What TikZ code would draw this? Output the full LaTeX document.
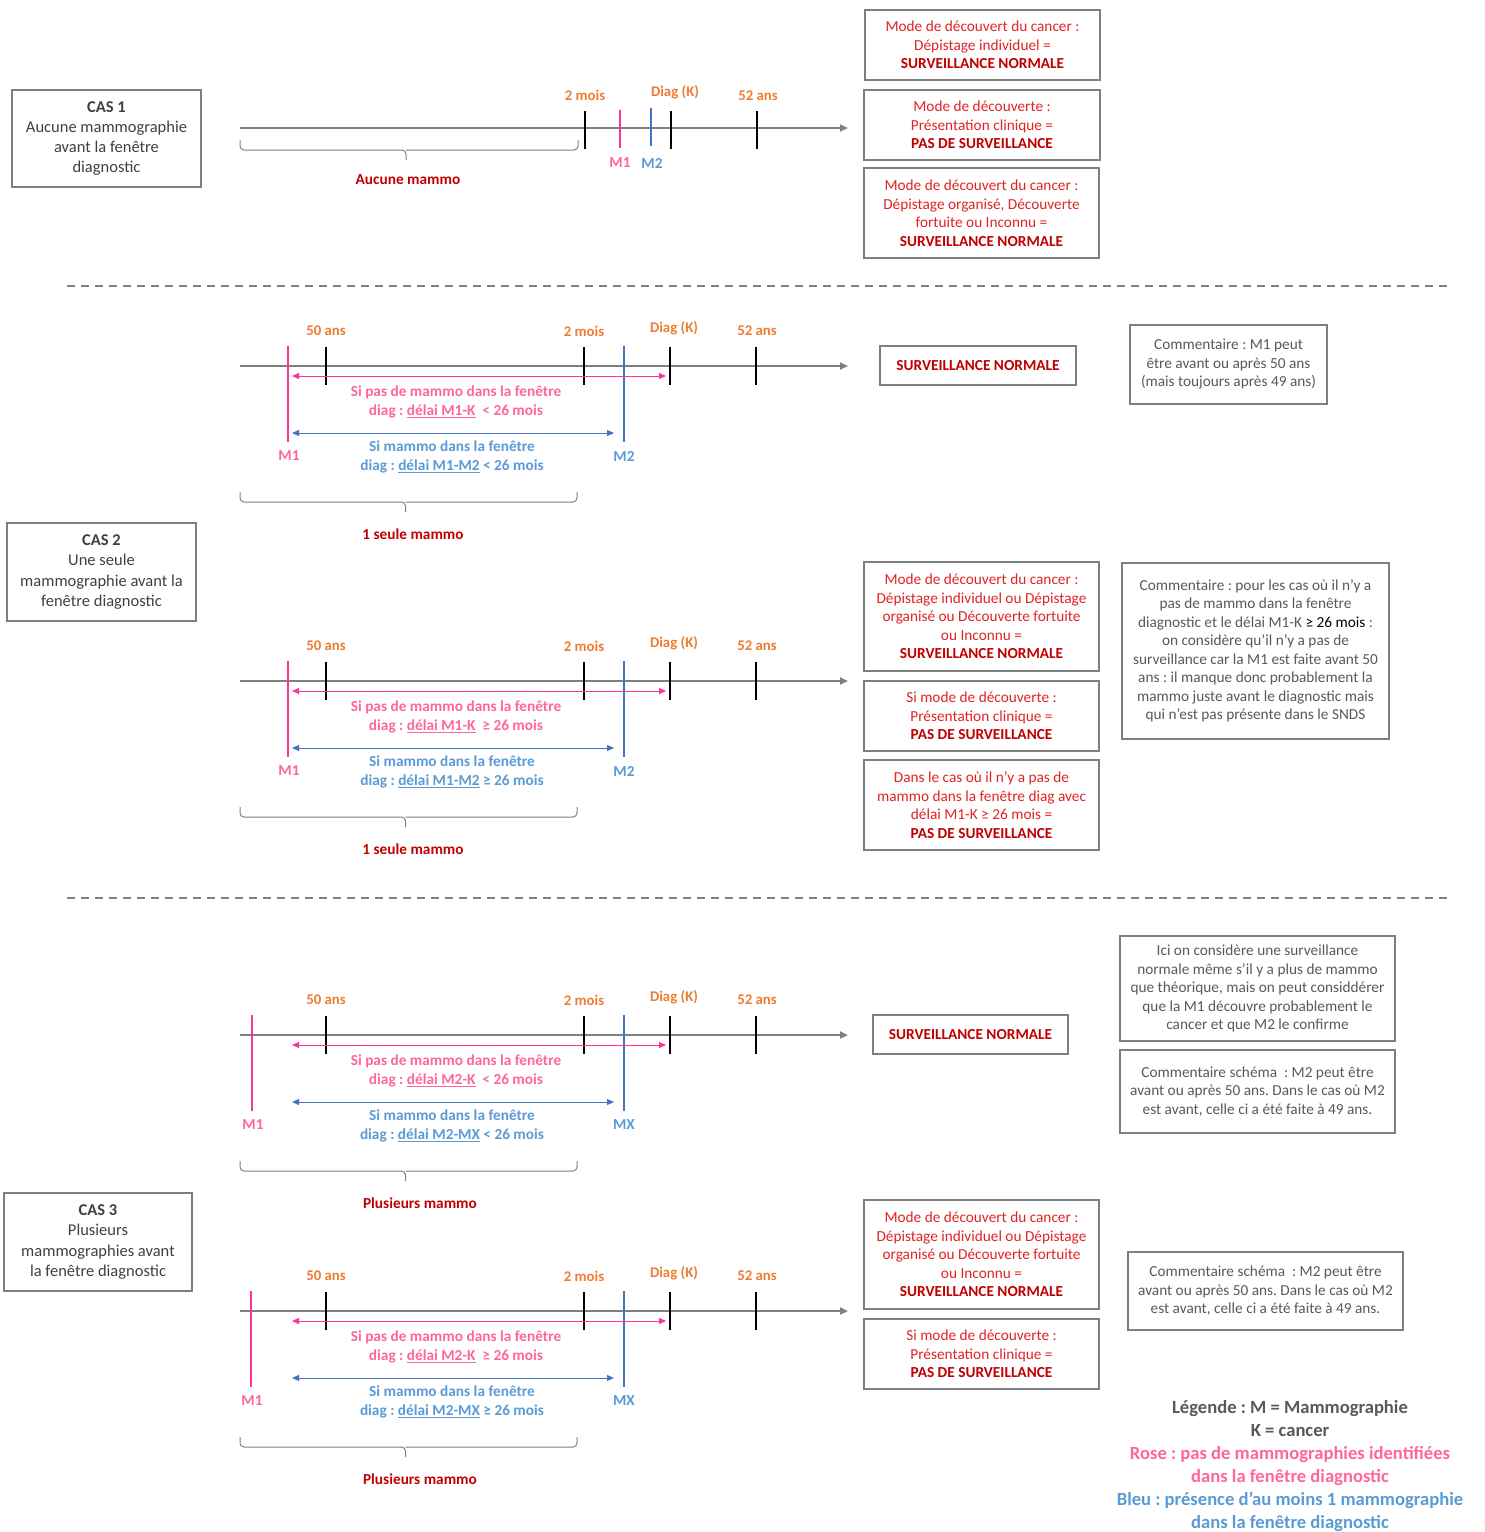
\documentclass[tikz,border=0pt]{standalone}
\usepackage{fontspec}
\setmainfont{Carlito}
\frenchspacing
\usetikzlibrary{arrows.meta}
\definecolor{axgray}{RGB}{128,128,128}
\definecolor{bxgray}{RGB}{127,127,127}
\definecolor{txgray}{RGB}{89,89,89}
\definecolor{cagray}{RGB}{64,64,64}
\definecolor{orng}{RGB}{237,125,49}
\definecolor{drkred}{RGB}{192,0,0}
\definecolor{boxred}{RGB}{224,36,36}
\definecolor{pinkln}{RGB}{255,51,153}
\definecolor{pinktx}{RGB}{255,102,153}
\definecolor{bluetx}{RGB}{91,155,213}
\definecolor{blueln}{RGB}{68,114,196}
\newcommand\bxfont{\fontsize{15.3}{18.5}\selectfont}
\newcommand\olfont{\fontsize{14.8}{18.5}\selectfont}
\newcommand\csfont{\fontsize{16.5}{20.2}\selectfont}
\newcommand\lgfont{\fontsize{18.6}{23}\selectfont\bfseries}
\newcommand\redbold[1]{\textbf{\color{drkred}#1}}
\tikzset{
  axis/.style={draw=axgray, line width=2pt, -{Triangle[length=8pt,width=7pt]}},
  tickmark/.style={draw=black, line width=2pt},
  pinkv/.style={draw=pinkln, line width=2pt},
  bluev/.style={draw=blueln, line width=2pt},
  pinkarr/.style={draw=pinkln, line width=1pt, {Triangle[length=7pt,width=6pt]}-{Triangle[length=7pt,width=6pt]}},
  bluearr/.style={draw=blueln, line width=1pt, {Triangle[length=7pt,width=6pt]}-{Triangle[length=7pt,width=6pt]}},
  olbl/.style={font=\olfont\bfseries, text=orng, inner sep=0},
  plbl/.style={font=\bxfont\bfseries, text=pinktx, align=center, inner sep=0},
  blbl/.style={font=\bxfont\bfseries, text=bluetx, align=center, inner sep=0},
  brc/.style={draw=axgray, line width=1pt, rounded corners=4pt},
  brlbl/.style={font=\bxfont\bfseries, text=drkred, inner sep=0},
  redbox/.style={draw=bxgray, line width=1.5pt, align=center, font=\bxfont, text=boxred, inner sep=0},
  graybox/.style={draw=bxgray, line width=1.5pt, align=center, font=\bxfont, text=txgray, inner sep=0},
  casebox/.style={draw=bxgray, line width=1.5pt, align=center, font=\csfont, text=cagray, inner sep=0},
  dashsep/.style={draw=axgray, line width=2pt, dash pattern=on 8pt off 6pt},
}
% #1 prefix, #2 y0, #3 pink x, #4 pink label, #5 pink line 2, #6 blue line 2, #7 blue label, #8 brace label, #9 brace label x
\newcommand\drawtl[9]{%
  \coordinate (#1a0) at (240,#2);
  \coordinate (#1a1) at (848,#2);
  \draw[axis] (#1a0) -- (#1a1);
  \foreach \xx/\nm in {325.5/t50,583.5/t2m,669.5/tdk,755.5/t52}{
    \coordinate (#1\nm u) at (\xx,#2-19);
    \coordinate (#1\nm d) at (\xx,#2+19);
    \draw[tickmark] (#1\nm u) -- (#1\nm d);
  }
  \node[olbl] (#1l50) at (326,#2-35) {50 ans};
  \node[olbl] (#1l2m) at (584,#2-35) {2 mois};
  \node[olbl] (#1ldk) at (674,#2-38) {Diag (K)};
  \node[olbl] (#1l52) at (757,#2-35) {52 ans};
  \coordinate (#1pu) at (#3,#2-20);
  \coordinate (#1pd) at (#3,#2+76);
  \draw[pinkv] (#1pu) -- (#1pd);
  \coordinate (#1bu) at (624,#2-20);
  \coordinate (#1bd) at (624,#2+76);
  \draw[bluev] (#1bu) -- (#1bd);
  \coordinate (#1pa0) at (292,#2+10);
  \coordinate (#1pa1) at (666,#2+10);
  \draw[pinkarr] (#1pa0) -- (#1pa1);
  \coordinate (#1ba0) at (292,#2+67);
  \coordinate (#1ba1) at (614,#2+67);
  \draw[bluearr] (#1ba0) -- (#1ba1);
  \node[plbl] (#1pt) at (456,#2+36) {Si pas de mammo dans la fenêtre\\#5};
  \node[blbl] (#1bt) at (452,#2+91) {Si mammo dans la fenêtre\\#6};
  \node[plbl] (#1pl) at (#3+1,#2+90) {#4};
  \node[blbl] (#1bl) at (624,#2+90) {#7};
  \coordinate (#1r0) at (240,#2+126);
  \coordinate (#1r1) at (577,#2+126);
  \coordinate (#1rm) at (405.5,#2+136);
  \coordinate (#1rt) at (405.5,#2+146);
  \draw[brc] (#1r0) |- (#1rm) -- (#1rt);
  \draw[brc] (#1r1) |- (#1rm);
  \node[brlbl] (#1bx) at (#9,#2+168) {#8};
}
\begin{document}
\begin{tikzpicture}[x=1pt,y=-1pt]
\useasboundingbox[fill=white] (0,0) rectangle (1484,1532);

% ---------------- CAS 1 ----------------
\node[casebox, minimum width=189pt, minimum height=97pt] (cas1) at (106.5,138.5)
  {\textbf{CAS 1}\\Aucune mammographie\\avant la fenêtre\\diagnostic};
\coordinate (c1a0) at (240,128);
\coordinate (c1a1) at (848,128);
\draw[axis] (c1a0) -- (c1a1);
\foreach \xx/\nm in {584.5/t2m,671/tdk,757/t52}{
  \coordinate (c1\nm u) at (\xx,111);
  \coordinate (c1\nm d) at (\xx,149);
  \draw[tickmark] (c1\nm u) -- (c1\nm d);
}
\coordinate (c1pu) at (619.5,110); \coordinate (c1pd) at (619.5,148);
\draw[pinkv] (c1pu) -- (c1pd);
\coordinate (c1bu) at (651,108); \coordinate (c1bd) at (651,146);
\draw[bluev] (c1bu) -- (c1bd);
\node[olbl] (c1l2m) at (585,95) {2 mois};
\node[olbl] (c1ldk) at (675,92) {Diag (K)};
\node[olbl] (c1l52) at (758,96) {52 ans};
\node[plbl] (c1pl) at (620,163) {M1};
\node[blbl] (c1bl) at (652,163) {M2};
\coordinate (c1r0) at (240,140);
\coordinate (c1r1) at (578,140);
\coordinate (c1rm) at (406,150);
\coordinate (c1rt) at (406,160);
\draw[brc] (c1r0) |- (c1rm) -- (c1rt);
\draw[brc] (c1r1) |- (c1rm);
\node[brlbl] (c1bx) at (408,180) {Aucune mammo};

\node[redbox, minimum width=235pt, minimum height=70pt] (c1b1) at (982.5,45)
  {Mode de découvert du cancer :\\Dépistage individuel =\\\redbold{SURVEILLANCE NORMALE}};
\node[redbox, minimum width=236pt, minimum height=70pt] (c1b2) at (982,125)
  {Mode de découverte :\\Présentation clinique =\\\redbold{PAS DE SURVEILLANCE}};
\node[redbox, minimum width=235pt, minimum height=90pt] (c1b3) at (981.5,213)
  {Mode de découvert du cancer :\\Dépistage organisé, Découverte\\fortuite ou Inconnu =\\\redbold{SURVEILLANCE NORMALE}};

\coordinate (d1a) at (67,286); \coordinate (d1b) at (1450,286);
\draw[dashsep] (d1a) -- (d1b);

% ---------------- CAS 2 ----------------
\node[casebox, minimum width=189pt, minimum height=98pt] (cas2) at (101.5,572)
  {\textbf{CAS 2}\\Une seule\\mammographie avant la\\fenêtre diagnostic};
\drawtl{c2a}{366}{288}{M1}{diag : \underline{délai M1-K}\ \ < 26 mois}{diag : \underline{délai M1-M2} < 26 mois}{M2}{1 seule mammo}{413}
\node[redbox, minimum width=196pt, minimum height=39pt] (c2sn) at (978,365.5)
  {\redbold{SURVEILLANCE NORMALE}};
\node[graybox, minimum width=197pt, minimum height=79pt] (c2com) at (1228.5,364.5)
  {Commentaire : M1 peut\\être avant ou après 50 ans\\(mais toujours après 49 ans)};

\drawtl{c2b}{681}{288}{M1}{diag : \underline{délai M1-K}\ \ ≥ 26 mois}{diag : \underline{délai M1-M2} ≥ 26 mois}{M2}{1 seule mammo}{413}
\node[redbox, minimum width=235pt, minimum height=109pt] (c2b1) at (981.5,616.5)
  {Mode de découvert du cancer :\\Dépistage individuel ou Dépistage\\organisé ou Découverte fortuite\\ou Inconnu =\\\redbold{SURVEILLANCE NORMALE}};
\node[redbox, minimum width=235pt, minimum height=70pt] (c2b2) at (981.5,716)
  {Si mode de découverte :\\Présentation clinique =\\\redbold{PAS DE SURVEILLANCE}};
\node[redbox, minimum width=235pt, minimum height=90pt] (c2b3) at (981.5,805)
  {Dans le cas où il n'y a pas de\\mammo dans la fenêtre diag avec\\délai M1-K ≥ 26 mois =\\\redbold{PAS DE SURVEILLANCE}};
\node[graybox, minimum width=267pt, minimum height=176pt] (c2com2) at (1255.5,651)
  {Commentaire : pour les cas où il n'y a\\pas de mammo dans la fenêtre\\diagnostic et le délai M1-K \textcolor{black}{≥ 26 mois} :\\on considère qu'il n'y a pas de\\surveillance car la M1 est faite avant 50\\ans : il manque donc probablement la\\mammo juste avant le diagnostic mais\\qui n'est pas présente dans le SNDS};

\coordinate (d2a) at (67,898); \coordinate (d2b) at (1450,898);
\draw[dashsep] (d2a) -- (d2b);

% ---------------- CAS 3 ----------------
\node[casebox, minimum width=188pt, minimum height=98pt] (cas3) at (98,1242)
  {\textbf{CAS 3}\\Plusieurs\\mammographies avant\\la fenêtre diagnostic};
\drawtl{c3a}{1035}{252}{M1}{diag : \underline{délai M2-K}\ \ < 26 mois}{diag : \underline{délai M2-MX} < 26 mois}{MX}{Plusieurs mammo}{420}
\node[redbox, minimum width=195pt, minimum height=39pt] (c3sn) at (970.5,1034.5)
  {\redbold{SURVEILLANCE NORMALE}};
\node[graybox, minimum width=275pt, minimum height=105pt] (c3ici) at (1257.5,988.5)
  {Ici on considère une surveillance\\normale même s'il y a plus de mammo\\que théorique, mais on peut considdérer\\que la M1 découvre probablement le\\cancer et que M2 le confirme};
\node[graybox, minimum width=275pt, minimum height=83pt] (c3com) at (1257.5,1091.5)
  {Commentaire schéma\ \ : M2 peut être\\avant ou après 50 ans. Dans le cas où M2\\est avant, celle ci a été faite à 49 ans.};

\drawtl{c3b}{1311}{251}{M1}{diag : \underline{délai M2-K}\ \ ≥ 26 mois}{diag : \underline{délai M2-MX} ≥ 26 mois}{MX}{Plusieurs mammo}{420}
\node[redbox, minimum width=235pt, minimum height=109pt] (c3b1) at (981.5,1254.5)
  {Mode de découvert du cancer :\\Dépistage individuel ou Dépistage\\organisé ou Découverte fortuite\\ou Inconnu =\\\redbold{SURVEILLANCE NORMALE}};
\node[redbox, minimum width=235pt, minimum height=70pt] (c3b2) at (981.5,1354)
  {Si mode de découverte :\\Présentation clinique =\\\redbold{PAS DE SURVEILLANCE}};
\node[graybox, minimum width=275pt, minimum height=78pt] (c3com2) at (1265.5,1291)
  {Commentaire schéma\ \ : M2 peut être\\avant ou après 50 ans. Dans le cas où M2\\est avant, celle ci a été faite à 49 ans.};

% ---------------- Legend ----------------
\node[font=\lgfont, align=center, text=txgray, inner sep=0] (leg) at (1290,1466)
  {Légende : M = Mammographie\\K = cancer\\\textcolor{pinktx}{Rose : pas de mammographies identifiées}\\\textcolor{pinktx}{dans la fenêtre diagnostic}\\\textcolor{bluetx}{Bleu : présence d'au moins 1 mammographie}\\\textcolor{bluetx}{dans la fenêtre diagnostic}};
\end{tikzpicture}
\end{document}
